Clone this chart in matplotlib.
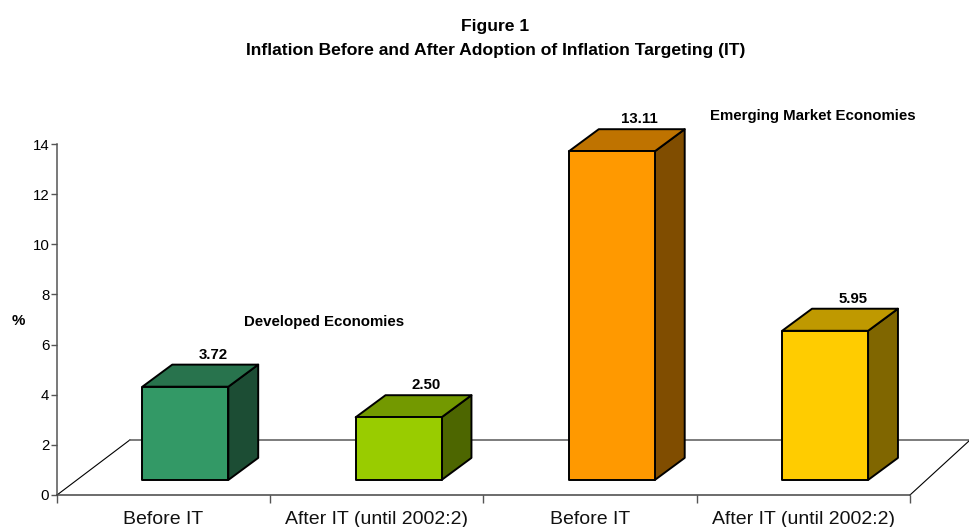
import matplotlib
matplotlib.use('Agg')
import matplotlib.pyplot as plt
from matplotlib.patches import Polygon

categories = ['Before IT', 'After IT (until 2002:2)', 'Before IT', 'After IT (until 2002:2)']
values = [3.72, 2.50, 13.11, 5.95]
value_labels = ['3.72', '2.50', '13.11', '5.95']
y_ticks = [0, 2, 4, 6, 8, 10, 12, 14]
front_colors = ['#339966', '#99CC00', '#FF9900', '#FFCC00']
top_colors = ['#28734D', '#739900', '#BF7300', '#BF9900']
side_colors = ['#1C4D34', '#4D6600', '#804D00', '#806600']

plt.rcParams['font.family'] = ['Liberation Sans', 'DejaVu Sans']

W, H = 970, 527
fig = plt.figure(figsize=(W / 100, H / 100), dpi=100)
ax = fig.add_axes([57 / W, (H - 495) / H, (910 - 57) / W, (495 - 144) / H])
ax.set_xlim(0, 4)
ax.set_ylim(0, 14)

# fake 3d settings, in data units
bar_w = 0.403
off = 0.102
dx = 0.14
dy = 0.88
base = 0.6
floor_dx = 73 / 213.25
floor_dy = 2.2

# floor
ax.plot([0, floor_dx], [0, floor_dy], color='black', lw=0.8, clip_on=False, zorder=1)
ax.plot([floor_dx, 4 + floor_dx - 0.06], [floor_dy, floor_dy], color='#666666', lw=1.2, clip_on=False, zorder=1)
ax.plot([4, 4 + floor_dx - 0.06], [0, floor_dy], color='black', lw=0.8, clip_on=False, zorder=1)

for i, v in enumerate(values):
    x0 = i + 0.5 + off - bar_w / 2
    x1 = x0 + bar_w
    y1 = base + v
    front = [(x0, base), (x1, base), (x1, y1), (x0, y1)]
    top = [(x0, y1), (x1, y1), (x1 + dx, y1 + dy), (x0 + dx, y1 + dy)]
    side = [(x1, base), (x1 + dx, base + dy), (x1 + dx, y1 + dy), (x1, y1)]
    ax.add_patch(Polygon(side, fc=side_colors[i], ec='black', lw=1.4, joinstyle='round', clip_on=False, zorder=3))
    ax.add_patch(Polygon(top, fc=top_colors[i], ec='black', lw=1.4, joinstyle='round', clip_on=False, zorder=3))
    ax.add_patch(Polygon(front, fc=front_colors[i], ec='black', lw=1.4, joinstyle='round', clip_on=False, zorder=3))
    ax.text(x0 + bar_w / 2 + dx - 0.01, y1 + dy + 0.4, value_labels[i], ha='center', va='center',
            fontsize=10.8, fontweight='bold', zorder=4)

for s in ['top', 'right']:
    ax.spines[s].set_visible(False)
ax.spines['left'].set_color('#555555')
ax.spines['left'].set_linewidth(1.1)
ax.spines['bottom'].set_color('#444444')
ax.spines['bottom'].set_linewidth(1.1)
ax.set_yticks(y_ticks)
ax.tick_params(axis='y', length=4, width=1, color='#555555', labelsize=10.8, pad=1.5)
ax.set_xticks([0, 1, 2, 3, 4])
ax.set_xticklabels([])
ax.tick_params(axis='x', length=6, width=1, color='#555555')
for i, c in enumerate(categories):
    ax.text(i + 0.5, -0.96, c, ha='center', va='center', fontsize=14, color='#111111')

ax.set_ylabel('%', fontsize=10.8, fontweight='bold', rotation=0)
ax.yaxis.set_label_coords(-39 / 853, (495 - 321) / 351, transform=ax.transAxes)
ax.yaxis.label.set_verticalalignment('center')

ax.text(1.252, 6.92, 'Developed Economies', ha='center', va='center', fontsize=10.8, fontweight='bold')
ax.text(3.546, 15.13, 'Emerging Market Economies', ha='center', va='center', fontsize=10.8, fontweight='bold')

fig.text(495.5 / W, 1 - 26.5 / H, 'Figure 1', ha='center', va='center', fontsize=12.6, fontweight='bold')
fig.text(495.5 / W, 1 - 51 / H, 'Inflation Before and After Adoption of Inflation Targeting (IT)',
         ha='center', va='center', fontsize=12.6, fontweight='bold')

fig.savefig('out.png', dpi=100)
